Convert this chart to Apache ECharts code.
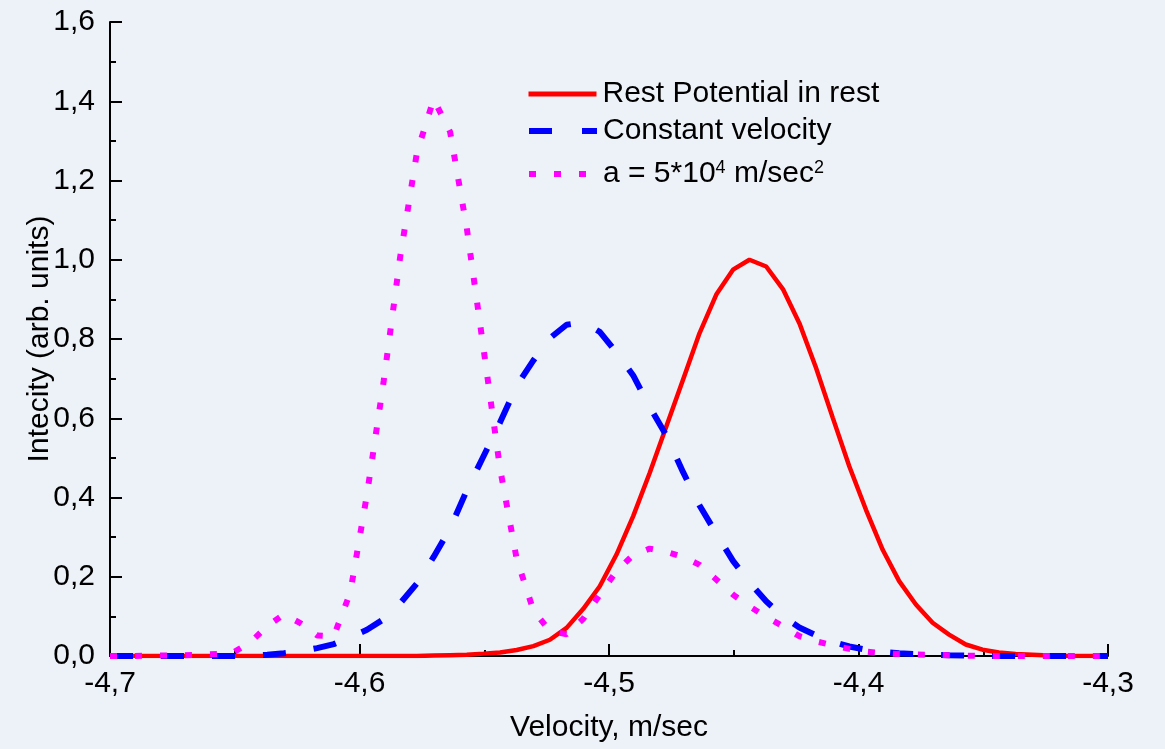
<!DOCTYPE html>
<html>
<head>
<meta charset="utf-8">
<title>Velocity distribution</title>
<script src="https://cdn.jsdelivr.net/npm/echarts@6/dist/echarts.min.js"></script>
<style>
  html, body { margin: 0; padding: 0; background: #edf2f9; }
  #chart { width: 1165px; height: 749px; }
</style>
</head>
<body>
<div id="chart"></div>
<script>
// x values (m/sec), shared by all three curves
const velocity = [
  -4.7000, -4.6903, -4.6837, -4.6770, -4.6703, -4.6637, -4.6570, -4.6503, -4.6437, -4.6370,
  -4.6303, -4.6237, -4.6170, -4.6103, -4.6037, -4.5970, -4.5903, -4.5837, -4.5770, -4.5703,
  -4.5637, -4.5570, -4.5503, -4.5437, -4.5370, -4.5303, -4.5237, -4.5170, -4.5103, -4.5037,
  -4.4970, -4.4903, -4.4837, -4.4770, -4.4703, -4.4637, -4.4570, -4.4503, -4.4437, -4.4370,
  -4.4303, -4.4237, -4.4170, -4.4103, -4.4037, -4.3970, -4.3903, -4.3837, -4.3770, -4.3703,
  -4.3637, -4.3570, -4.3503, -4.3437, -4.3370, -4.3303, -4.3237, -4.3170, -4.3103, -4.3000
];

const restPotential = [
  0, 0, 0, 0, 0, 0, 0, 0, 0, 0,
  0, 0, 0, 0, 0, 0, 0, 0, 0, 0.001,
  0.002, 0.003, 0.006, 0.009, 0.015, 0.025, 0.041, 0.071, 0.119, 0.176,
  0.256, 0.353, 0.462, 0.580, 0.698, 0.815, 0.912, 0.975, 1.000, 0.983,
  0.926, 0.840, 0.727, 0.601, 0.479, 0.369, 0.268, 0.189, 0.130, 0.084,
  0.054, 0.029, 0.016, 0.009, 0.005, 0.003, 0.001, 0, 0, 0
];

const constantVelocity = [
  0, 0, 0, 0, 0, 0, 0, 0, 0.001, 0.003,
  0.007, 0.012, 0.020, 0.030, 0.047, 0.066, 0.093, 0.133, 0.183, 0.250,
  0.322, 0.418, 0.504, 0.589, 0.682, 0.746, 0.802, 0.836, 0.842, 0.818,
  0.766, 0.708, 0.629, 0.556, 0.464, 0.380, 0.309, 0.240, 0.186, 0.138,
  0.100, 0.072, 0.052, 0.036, 0.024, 0.016, 0.010, 0.007, 0.005, 0.003,
  0.002, 0.001, 0, 0, 0, 0, 0, 0, 0, 0
];

const accelerated = [
  0, 0, 0.001, 0.001, 0.002, 0.003, 0.005, 0.010, 0.035, 0.075,
  0.105, 0.083, 0.052, 0.050, 0.160, 0.408, 0.694, 1.007, 1.270, 1.405,
  1.323, 1.080, 0.776, 0.474, 0.245, 0.115, 0.063, 0.055, 0.094, 0.155,
  0.214, 0.255, 0.271, 0.263, 0.250, 0.230, 0.193, 0.155, 0.125, 0.099,
  0.075, 0.050, 0.037, 0.027, 0.018, 0.011, 0.007, 0.005, 0.004, 0.003,
  0.002, 0.001, 0, 0, 0, 0, 0, 0, 0, 0
];

const seriesNames = ['Rest Potential in rest', 'Constant velocity', 'a = 5*10^4 m/sec^2'];

const FONT = 'Liberation Sans, Arial, sans-serif';

const toPairs = ys => velocity.map((x, i) => [x, ys[i]]);
const comma = v => Number(v).toFixed(1).replace('.', ',');

const chart = echarts.init(document.getElementById('chart'), null, { renderer: 'canvas' });

const legendBase = {
  orient: 'vertical',
  left: 526,
  padding: 0,
  itemWidth: 68,
  itemHeight: 14,
  itemGap: 0,
  selectedMode: false,
  // hide the marker circle echarts puts in the middle of line icons
  itemStyle: { color: 'rgba(0,0,0,0)', borderWidth: 0, opacity: 0 },
  textStyle: {
    fontFamily: FONT,
    fontSize: 30,
    color: '#000',
    padding: [0, 0, 0, 1],
    rich: {
      sup: { fontFamily: FONT, fontSize: 18, color: '#000', verticalAlign: 'top' },
      txt: { fontFamily: FONT, fontSize: 30, color: '#000' }
    }
  }
};

const option = {
  backgroundColor: '#edf2f9',
  animation: false,
  grid: { left: 110, right: 57, top: 22, bottom: 93 },
  legend: [
    Object.assign({}, legendBase, {
      top: 79, data: [seriesNames[0]],
      lineStyle: { width: 5 }
    }),
    Object.assign({}, legendBase, {
      top: 116, data: [seriesNames[1]],
      lineStyle: { width: 6, type: [23, 30] }
    }),
    Object.assign({}, legendBase, {
      top: 159,
      data: [seriesNames[2]],
      lineStyle: { width: 6, type: [7, 18] },
      formatter: () => '{txt|a = 5*10}{sup|4}{txt| m/sec}{sup|2}'
    })
  ],
  xAxis: {
    type: 'value',
    min: -4.7,
    max: -4.3,
    interval: 0.1,
    name: 'Velocity, m/sec',
    nameLocation: 'middle',
    nameGap: 57,
    nameMoveOverlap: false,
    nameTextStyle: { fontFamily: FONT, fontSize: 30, color: '#000' },
    axisLine: { show: true, onZero: false, lineStyle: { color: '#000', width: 2 } },
    axisTick: { show: true, inside: true, length: 12, lineStyle: { color: '#000', width: 2 } },
    minorTick: { show: true, splitNumber: 2, length: 6, lineStyle: { color: '#000', width: 2 } },
    splitLine: { show: false },
    axisLabel: {
      fontFamily: FONT, fontSize: 30, color: '#000', margin: 13,
      formatter: v => comma(v)
    }
  },
  yAxis: {
    type: 'value',
    min: 0,
    max: 1.6,
    interval: 0.2,
    name: 'Intecity (arb. units)',
    nameLocation: 'middle',
    nameRotate: 90,
    nameGap: 55,
    nameMoveOverlap: false,
    nameTextStyle: { fontFamily: FONT, fontSize: 30, color: '#000' },
    axisLine: { show: true, lineStyle: { color: '#000', width: 2 } },
    axisTick: { show: true, inside: true, length: 12, lineStyle: { color: '#000', width: 2 } },
    minorTick: { show: true, splitNumber: 2, length: 6, lineStyle: { color: '#000', width: 2 } },
    splitLine: { show: false },
    axisLabel: {
      fontFamily: FONT, fontSize: 30, color: '#000', margin: 15,
      formatter: v => comma(v)
    }
  },
  series: [
    {
      name: seriesNames[0],
      type: 'line',
      symbol: 'none',
      showSymbol: false,
      smooth: false,
      color: '#ff0000',
      lineStyle: { color: '#ff0000', width: 4.5 },
      data: toPairs(restPotential),
      z: 2
    },
    {
      name: seriesNames[1],
      type: 'line',
      symbol: 'none',
      showSymbol: false,
      smooth: false,
      color: '#0000ff',
      lineStyle: { color: '#0000ff', width: 6, type: [23, 28] },
      data: toPairs(constantVelocity),
      z: 3
    },
    {
      name: seriesNames[2],
      type: 'line',
      symbol: 'none',
      showSymbol: false,
      smooth: false,
      color: '#ff00ff',
      lineStyle: { color: '#ff00ff', width: 6, type: [7, 18] },
      data: toPairs(accelerated),
      z: 4
    }
  ]
};

chart.setOption(option);
window.addEventListener('resize', () => chart.resize());
</script>
</body>
</html>
